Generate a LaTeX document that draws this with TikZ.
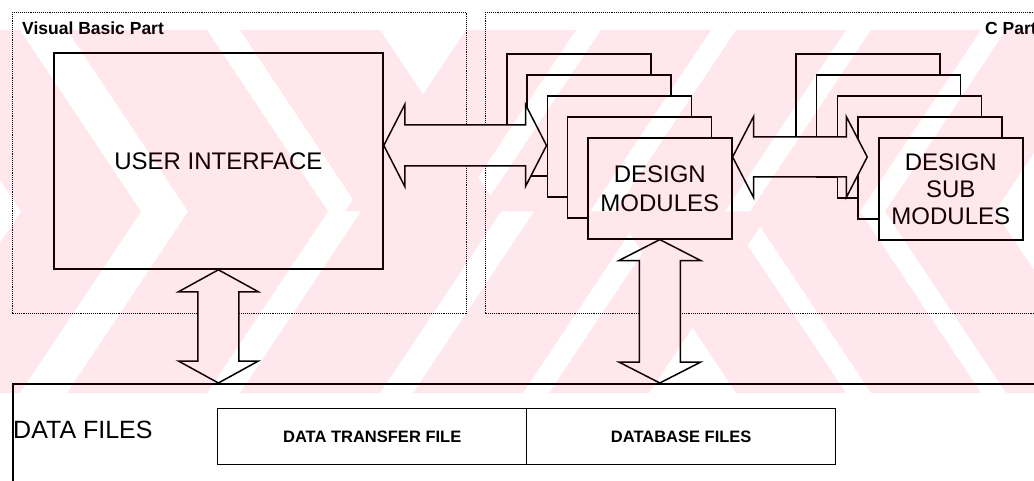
\documentclass[tikz,border=0pt]{standalone}
\usepackage{fontspec}
\setmainfont{Liberation Sans}
\usetikzlibrary{calc}
\definecolor{wmred}{RGB}{255,0,55}

% horizontal double block arrow: #1 left tip, #2 right tip, #3 head length,
% #4 head half height, #5 shaft half height
\newcommand\fatharrow[5]{%
  \draw[fatarrow] let \p1=#1, \p2=#2 in
    (\x1,\y1) -- (\x1+#3,\y1+#4) -- (\x1+#3,\y1+#5) -- (\x2-#3,\y1+#5)
    -- (\x2-#3,\y1+#4) -- (\x2,\y1) -- (\x2-#3,\y1-#4) -- (\x2-#3,\y1-#5)
    -- (\x1+#3,\y1-#5) -- (\x1+#3,\y1-#4) -- cycle;}
% vertical double block arrow: #1 top tip, #2 bottom tip, #3 head length,
% #4 head half width, #5 shaft half width
\newcommand\fatvarrow[5]{%
  \draw[fatarrow] let \p1=#1, \p2=#2 in
    (\x1,\y1) -- (\x1+#4,\y1-#3) -- (\x1+#5,\y1-#3) -- (\x1+#5,\y2+#3)
    -- (\x1+#4,\y2+#3) -- (\x1,\y2) -- (\x1-#4,\y2+#3) -- (\x1-#5,\y2+#3)
    -- (\x1-#5,\y1-#3) -- (\x1-#4,\y1-#3) -- cycle;}

\begin{document}
\begin{tikzpicture}[x=1pt,y=-1pt]
\tikzset{
  partframe/.style={draw=black, line width=0.9pt, dash pattern=on 1pt off 0.9pt},
  partlabel/.style={font=\fontsize{17.5}{20}\selectfont\bfseries, inner sep=0pt, anchor=base west},
  bigbox/.style={draw=black, fill=white, line width=1.8pt, inner sep=0pt,
    font=\fontsize{24}{28}\selectfont, align=center},
  modbox/.style={draw=black, fill=white, line width=1.6pt, inner sep=0pt, anchor=north west,
    minimum width=144pt, minimum height=101pt, font=\fontsize{24}{29}\selectfont, align=center},
  fatarrow/.style={draw=black, fill=white, line width=1.5pt, line join=miter, miter limit=20},
  filebox/.style={draw=black, line width=1.4pt, inner sep=0pt, anchor=north west,
    minimum width=309pt, minimum height=56pt, font=\fontsize{16.5}{18}\selectfont\bfseries},
  watermark/.style={fill=wmred, fill opacity=0.09}
}
\useasboundingbox (0,0) rectangle (1034,481);
\clip (0,0) rectangle (1034,481);

% the two program parts
\draw[partframe] (12,12) rectangle (466,313);
\draw[partframe] (485,12) rectangle (1050,313);
\node[partlabel] (vblabel) at (22,35) {Visual Basic Part};
\node[partlabel] (clabel) at (985,35) {C Part};

% user interface
\node[bigbox, anchor=north west, minimum width=329pt, minimum height=216pt] (ui) at (53,52) {USER INTERFACE};

% design modules stack (back to front)
\node[modbox] (dm1) at (506,53) {};
\node[modbox] (dm2) at (526.25,74) {};
\coordinate (dm3west) at ($(dm2.north west)+(20.25,71.5)$);
\fatharrow{(ui.east |- dm3west)}{(dm3west)}{21pt}{41pt}{20.5pt}
\node[modbox] (dm3) at (546.5,95) {};
\node[modbox] (dm4) at (566.75,116) {};
\node[modbox] (dm5) at (587,137) {DESIGN\\MODULES};

% design sub modules stack (back to front)
\node[modbox, minimum height=102pt] (sb1) at (795,53) {};
\node[modbox, minimum height=102pt] (sb2) at (815.75,74) {};
\node[modbox, minimum height=102pt] (sb3) at (836.5,95) {};
\node[modbox, minimum height=102pt] (sb4) at (857.25,116) {};
\coordinate (a2l) at ($(dm5.north east)+(0,20)$);
\coordinate (a2r) at ($(sb4.north west)+(10,41)$);
\fatharrow{(a2l)}{(a2r)}{21pt}{40.5pt}{20pt}
\node[modbox, minimum height=102pt, font=\fontsize{24}{27}\selectfont] (sb5) at (878,137) {DESIGN\\SUB\\MODULES};

% data files
\node[draw=black, line width=1.6pt, inner sep=0pt, anchor=north west,
  minimum width=1060pt, minimum height=120pt] (df) at (12,383) {};
\node[font=\fontsize{25}{28}\selectfont, anchor=west, inner sep=0pt] (dflabel) at (13,430) {DATA FILES};
\node[filebox] (dtf) at (217,408) {DATA TRANSFER FILE};
\node[filebox] (dbf) at (526,408) {DATABASE FILES};

% links to the data files
\fatvarrow{(ui.south)}{(ui.south |- df.north)}{22pt}{40pt}{20.5pt}
\fatvarrow{(dm5.south)}{(dm5.south |- df.north)}{21pt}{41pt}{20.5pt}

% faint chevron emblem laid over the page
\fill[watermark]
  (-100,30) -- (20,30) -- (141,211.5) -- (20,393) -- (-100,393) -- (21,211.5) -- cycle
  (67,30) -- (207,30) -- (328,211.5) -- (207,393) -- (67,393) -- (188,211.5) -- cycle
  (240,30) -- (380,30) -- (501,211.5) -- (380,393) -- (240,393) -- (361,211.5) -- cycle
  (534,211.5) -- (644,211.5) -- (523,393) -- (413,393) -- cycle
  (670,211.5) -- (770,211.5) -- (649,393) -- (549,393) -- cycle
  (345,211.5) -- (466,30) -- (576,30) -- (455,211.5) -- cycle
  (480,211.5) -- (601,30) -- (711,30) -- (590,211.5) -- cycle
  (615,211.5) -- (736,30) -- (846,30) -- (725,211.5) -- (846,393) -- (736,393) -- cycle
  (750,211.5) -- (871,30) -- (981,30) -- (860,211.5) -- (981,393) -- (871,393) -- cycle
  (885,211.5) -- (1006,30) -- (1116,30) -- (995,211.5) -- (1116,393) -- (1006,393) -- cycle;
\end{tikzpicture}
\end{document}
